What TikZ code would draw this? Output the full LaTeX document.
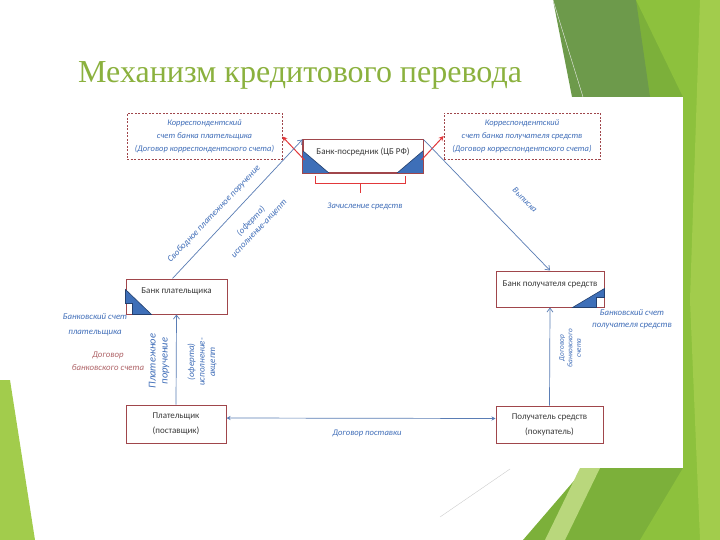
\documentclass[tikz,border=0pt]{standalone}
\usepackage{fontspec}
\setmainfont{Carlito}
\newfontfamily\titlefont{Liberation Serif}
\usetikzlibrary{arrows.meta}
\definecolor{boxred}{HTML}{A0464B}
\definecolor{textgrey}{HTML}{3A3A3A}
\definecolor{lblue}{HTML}{3F6DB8}
\definecolor{lineblue}{HTML}{5A7DB5}
\definecolor{arrred}{HTML}{E2383A}
\definecolor{acctblue}{HTML}{3E6FB8}
\definecolor{acctdark}{HTML}{24406E}
\definecolor{titlegreen}{HTML}{8BB13E}
\definecolor{gdark}{HTML}{6D9A4B}
\definecolor{gmid}{HTML}{7CB03A}
\definecolor{glime}{HTML}{8DC13D}
\definecolor{glight}{HTML}{A2CC4C}
\definecolor{gpale}{HTML}{B9D77C}

\begin{document}
\begin{tikzpicture}[x=1pt,y=-1pt,
    box/.style={draw=boxred, fill=white, line width=1pt, text=textgrey,
      font=\fontsize{9}{15}\selectfont, align=center, inner sep=0pt},
    corr/.style={draw=boxred, dash pattern=on 2pt off 1.5pt, line width=.6pt,
      text=lblue, font=\itshape\fontsize{8.5}{13}\selectfont, align=center, inner sep=0pt},
    lbl/.style={text=lblue, font=\itshape\fontsize{8.6}{11}\selectfont, align=center, inner sep=0pt},
    flow/.style={draw=lineblue, line width=.7pt, -{Straight Barb[length=4pt,width=6pt]}},
    redflow/.style={draw=arrred, line width=1pt, -{Stealth[length=5pt,width=5pt]}},
    acct/.style={fill=acctblue, draw=acctdark, line width=.6pt}]
  \useasboundingbox (0,0) rectangle (720,540);

  %slide background
  \fill[gmid] (553,0) -- (720,0) -- (720,540) -- (523,540) -- (585,468) -- (590,97) -- cycle;
  \fill[gdark] (553,0) -- (636,0) -- (650,97) -- (572,97) -- cycle;
  \fill[glime] (636,0) -- (720,0) -- (720,540) -- (640,540) -- (683,468) -- (683,97) -- cycle;
  \fill[glight] (700,0) -- (720,0) -- (720,540) -- (700,540) -- (690,300) -- cycle;
  \fill[gpale] (545,540) -- (580,468) -- (600,468) -- (565,540) -- cycle;
  \fill[glight] (0,380) -- (10,380) -- (35,540) -- (0,540) -- cycle;
  \draw[gray!40, line width=.4pt] (440,517) -- (510,469);
  \draw[white!85!gray, line width=.4pt] (553,0) -- (583,97);
  \fill[white] (95,97) rectangle (683,468);

  \node[anchor=base west, text=titlegreen, font=\titlefont\fontsize{32}{32}\selectfont, inner sep=0pt]
    at (78,83) (title){Механизм кредитового перевода};

  %banks
  \node[box, minimum width=120pt, minimum height=33pt, text height=7pt, text depth=10pt]
    at (363,156.5) (mid){Банк-посредник (ЦБ РФ)};
  \node[box, minimum width=101pt, minimum height=35pt, text height=7pt, text depth=14pt]
    at (176.5,296.5) (bankpay){Банк плательщика};
  \node[box, minimum width=108pt, minimum height=36pt, text height=7pt, text depth=13pt]
    at (550,289) (bankrec){Банк получателя средств};
  \node[box, minimum width=100pt, minimum height=38pt] at (176,424) (payer){Плательщик\\(поставщик)};
  \node[box, minimum width=107pt, minimum height=37pt] at (549.5,424.5) (recip){Получатель средств\\(покупатель)};

  %correspondent accounts
  \node[corr, minimum width=155pt, minimum height=46pt] at (204.5,136.5) (corrL)
    {Корреспондентский\\счет банка плательщика\\(Договор корреспондентского счета)};
  \node[corr, minimum width=156pt, minimum height=46pt] at (522,136) (corrR)
    {Корреспондентский\\счет банка получателя средств\\(Договор корреспондентского счета)};

  %account marks
  \fill[acct] (mid.south west) -- ++(0,-23) -- ++(27,23) -- cycle;
  \fill[acct] (mid.south east) -- ++(0,-23) -- ++(-27,23) -- cycle;
  \filldraw[acct] (bankpay.south west) ++(0,-25) -- ++(26,25) -- ++(-19,0) -- ++(0,-11) -- ++(-7,0) -- cycle;
  \filldraw[acct] (bankrec.south east) ++(0,-19) -- ++(-32,19) -- ++(24,0) -- ++(0,-10) -- ++(8,0) -- cycle;
  \draw[boxred, line width=1pt] (mid.north west) rectangle (mid.south east);

  \draw[arrred, line width=1pt] (315,176) -- (315,184) -- (405,184) -- (405,176) (360,184) -- (360,193);
  \node[lbl] at (365,206) (zach){Зачисление средств};

  %flows
  \draw[redflow] ([shift={(2pt,-3.5pt)}]mid.west) -- (corrL.east);
  \draw[redflow] ([shift={(-2pt,-3.5pt)}]mid.east) -- (corrR.west);
  \draw[flow] ([xshift=-4pt]bankpay.north) -- (mid.north west);
  \draw[flow] (mid.north east) -- (bankrec.north);
  \draw[flow] (payer.north) -- (bankpay.south);
  \draw[flow] (recip.north) -- (bankrec.south);
  \draw[lineblue, line width=.7pt, {Stealth[length=4pt,width=4pt]}-{Stealth[length=4pt,width=4pt]}]
    ([yshift=6pt]payer.east) -- ([yshift=6pt]recip.west);

  %labels
  \node[lbl, rotate=46.5, font=\itshape\fontsize{8.9}{11}\selectfont] at (214,214) (svob){Свободное платежное поручение};
  \node[lbl, rotate=46.5, font=\itshape\fontsize{8.9}{11}\selectfont] at (255,225) (ofL){(оферта)\\исполнение-акцепт};
  \node[lbl, rotate=-45] at (525,200) (vyp){Выписка};
  \node[lbl, rotate=90, font=\itshape\fontsize{10.5}{12}\selectfont] at (159,361) (plat){Платежное\\поручение};
  \node[lbl, rotate=90, font=\itshape\fontsize{9}{10.5}\selectfont] at (202,362) (ofV){(оферта)\\исполнение-\\акцепт};
  \node[lbl, rotate=90, font=\itshape\fontsize{7.3}{8.5}\selectfont] at (570,348) (dogR){Договор\\банковского\\счета};
  \node[lbl, font=\itshape\fontsize{8.8}{15}\selectfont] at (95,325) (schL){Банковский счет\\плательщика};
  \node[lbl, text=boxred!85!white, font=\itshape\fontsize{8.8}{13}\selectfont] at (108,361) (dogL){Договор\\банковского счета};
  \node[lbl, font=\itshape\fontsize{8.8}{12}\selectfont] at (632,319) (schR){Банковский счет\\получателя средств};
  \node[lbl] at (367,433) (post){Договор поставки};
\end{tikzpicture}
\end{document}
